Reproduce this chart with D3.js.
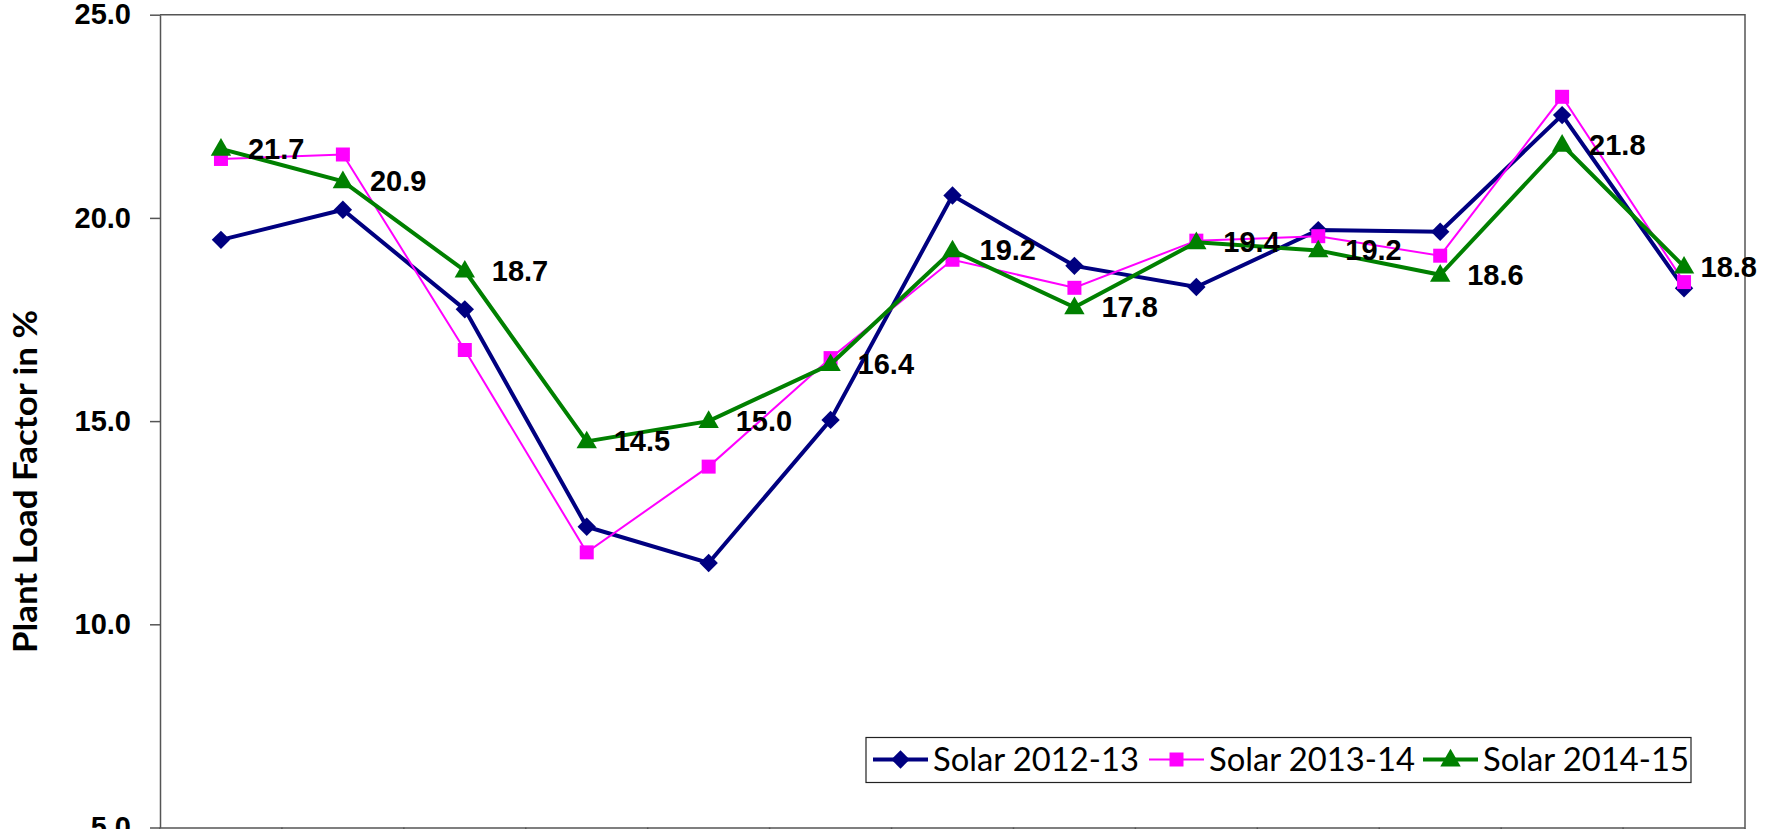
<!DOCTYPE html>
<html>
<head>
<meta charset="utf-8">
<script src="https://cdn.jsdelivr.net/npm/d3@7"></script>
<style>
  html, body { margin: 0; padding: 0; background: #fff; overflow: hidden; }
  svg { display: block; }
</style>
</head>
<body>
<svg id="chart" width="1768" height="900"></svg>
<script>
// ---- Data ----
const categories = ["Apr", "May", "Jun", "Jul", "Aug", "Sep", "Oct", "Nov", "Dec", "Jan", "Feb", "Mar", "Annual"];
const solar2012_13 = [19.46, 20.20, 17.75, 12.40, 11.51, 15.03, 20.55, 18.82, 18.30, 19.70, 19.66, 22.53, 18.27];
const solar2013_14 = [21.45, 21.56, 16.75, 11.77, 13.88, 16.55, 18.97, 18.28, 19.44, 19.55, 19.07, 22.98, 18.42];
const solar2014_15 = [21.7, 20.9, 18.7, 14.5, 15.0, 16.4, 19.2, 17.8, 19.4, 19.2, 18.6, 21.8, 18.8];
const seriesNames = ["Solar 2012-13", "Solar 2013-14", "Solar 2014-15"];
const yTicks = [5, 10, 15, 20, 25];
const yTitle = "Plant Load Factor in %";

(function () {
// ---- Styles ----
const seriesStyle = [
  { color: "#000080", width: 4,   symbol: "diamond" },
  { color: "#FF00FF", width: 2,   symbol: "square" },
  { color: "#008000", width: 4,   symbol: "triangle" }
];
const seriesData = [solar2012_13, solar2013_14, solar2014_15];

const svg = d3.select("#chart");
const pLeft = 160, pRight = 1745, pTop = 14.7, pBottom = 827.5;

const x = d3.scaleBand().domain(categories).range([pLeft, pRight]);
const y = d3.scaleLinear().domain([5, 25]).range([pBottom, pTop]);
const cx = c => x(c) + x.bandwidth() / 2;

// Plot frame (top & right)
svg.append("path")
  .attr("d", `M${pLeft},${pTop}H${pRight}V${pBottom}`)
  .attr("fill", "none").attr("stroke", "#555").attr("stroke-width", 1.5);

// Y axis
const yAxis = svg.append("g").attr("transform", `translate(${pLeft},0)`)
  .call(d3.axisLeft(y).tickValues(yTicks).tickFormat(d3.format(".1f"))
        .tickSize(10).tickSizeOuter(0).tickPadding(19));
yAxis.select(".domain").attr("stroke", "#555").attr("stroke-width", 1.5);
yAxis.selectAll(".tick line").attr("stroke", "#555").attr("stroke-width", 1.5);
yAxis.selectAll(".tick text")
  .attr("font-family", "'Liberation Sans', Arial, sans-serif")
  .attr("font-weight", "bold").attr("font-size", 29).attr("fill", "#000");

// X axis (ticks between categories, Excel style)
const xAxis = svg.append("g").attr("transform", `translate(0,${pBottom})`)
  .call(d3.axisBottom(x).tickSize(0).tickSizeOuter(0).tickPadding(20));
xAxis.select(".domain").attr("stroke", "#555").attr("stroke-width", 1.5);
xAxis.selectAll(".tick text")
  .attr("font-family", "'Liberation Sans', Arial, sans-serif")
  .attr("font-weight", "bold").attr("font-size", 24).attr("fill", "#000");
const boundaries = categories.map(c => x(c)).concat([x(categories[categories.length - 1]) + x.bandwidth()]);
svg.append("g").selectAll("line").data(boundaries).join("line")
  .attr("x1", d => d).attr("x2", d => d)
  .attr("y1", pBottom).attr("y2", pBottom + 10)
  .attr("stroke", "#555").attr("stroke-width", 1.5);

// Y title
svg.append("text")
  .attr("transform", `translate(37,${481.5}) rotate(-90)`)
  .attr("text-anchor", "middle")
  .attr("font-family", "Lato, 'Open Sans', sans-serif")
  .attr("font-weight", "bold").attr("font-size", 32)
  .attr("textLength", 343).attr("lengthAdjust", "spacingAndGlyphs")
  .text(yTitle);

// Symbol helpers
function symbolPath(kind) {
  if (kind === "diamond") return d3.symbol(d3.symbolSquare, 13 * 13)();
  if (kind === "square") return d3.symbol(d3.symbolSquare, 14 * 14)();
  return d3.symbol(d3.symbolTriangle, 180)();
}
function symbolTransform(kind, px, py) {
  if (kind === "diamond") return `translate(${px},${py}) rotate(45)`;
  if (kind === "triangle") return `translate(${px},${py + 1})`;
  return `translate(${px},${py})`;
}

// Lines + markers
const line = d3.line().x(d => cx(d.c)).y(d => y(d.v));
seriesData.forEach((vals, i) => {
  const st = seriesStyle[i];
  const pts = categories.map((c, k) => ({ c, v: vals[k] }));
  svg.append("path").datum(pts)
    .attr("d", line).attr("fill", "none")
    .attr("stroke", st.color).attr("stroke-width", st.width)
    .attr("stroke-linejoin", "miter");
  svg.append("g").selectAll("path").data(pts).join("path")
    .attr("d", symbolPath(st.symbol))
    .attr("transform", d => symbolTransform(st.symbol, cx(d.c), y(d.v)))
    .attr("fill", st.color);
});

// Data labels for Solar 2014-15
const labelG = svg.append("g");
categories.forEach((c, k) => {
  const v = solar2014_15[k];
  const t = labelG.append("text")
    .attr("y", y(v))
    .attr("dominant-baseline", "central")
    .attr("font-family", "'Liberation Sans', Arial, sans-serif")
    .attr("font-weight", "bold").attr("font-size", 29).attr("fill", "#000")
    .text(d3.format(".1f")(v));
  const w = t.node().getComputedTextLength();
  const xs = Math.min(cx(c) + 27, 1757 - w);
  t.attr("x", xs);
});

// Legend
const lg = svg.append("g");
lg.append("rect").attr("x", 866).attr("y", 737.5).attr("width", 825).attr("height", 45)
  .attr("fill", "#fff").attr("stroke", "#222").attr("stroke-width", 1.2);
const itemX = [873, 1149, 1423];
seriesNames.forEach((name, i) => {
  const st = seriesStyle[i];
  const x0 = itemX[i], ly = 759.5;
  lg.append("line").attr("x1", x0).attr("x2", x0 + 55).attr("y1", ly).attr("y2", ly)
    .attr("stroke", st.color).attr("stroke-width", st.width);
  lg.append("path").attr("d", symbolPath(st.symbol))
    .attr("transform", symbolTransform(st.symbol, x0 + 27.5, ly))
    .attr("fill", st.color);
  lg.append("text").attr("x", x0 + 60).attr("y", 771)
    .attr("font-family", "Lato, 'Open Sans', sans-serif")
    .attr("font-size", 32).attr("fill", "#000")
    .attr("textLength", 206).attr("lengthAdjust", "spacingAndGlyphs")
    .text(name);
});
})();
</script>
</body>
</html>
